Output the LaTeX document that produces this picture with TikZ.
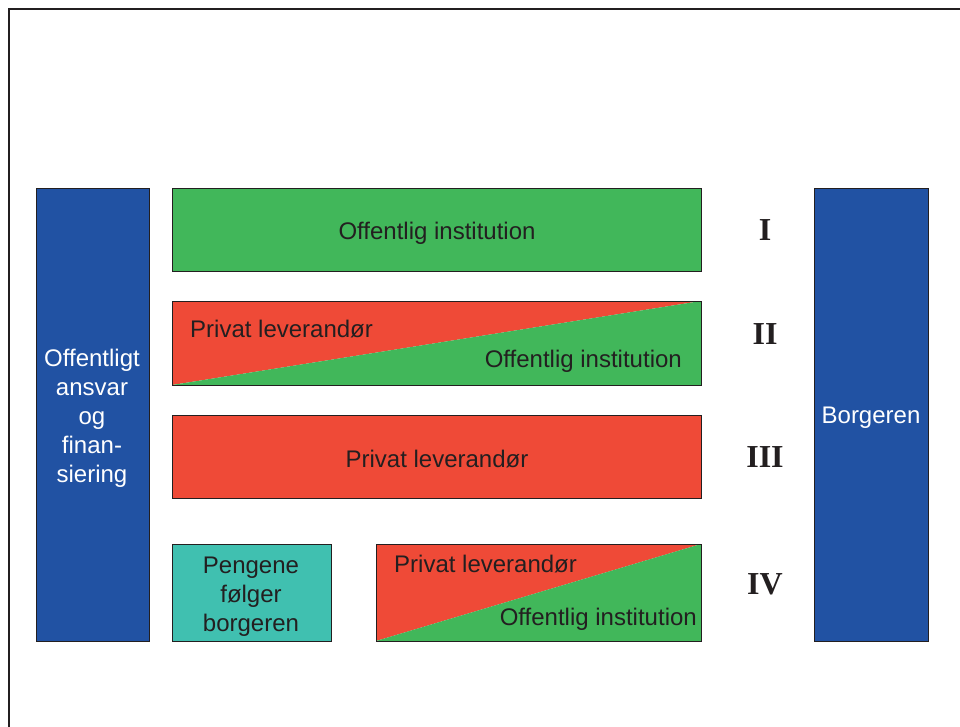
\documentclass[tikz,border=0pt]{standalone}
\usepackage{fontspec}
\setmainfont{Liberation Sans}
\newfontfamily\romanfont{Liberation Serif}
\definecolor{pgreen}{HTML}{41B75A}
\definecolor{pred}{HTML}{EF4A37}
\definecolor{pblue}{HTML}{2152A3}
\definecolor{pteal}{HTML}{40C0B0}
\definecolor{ink}{HTML}{231F20}
\begin{document}
\begin{tikzpicture}[x=1pt,y=-1pt,
  box/.style={draw=ink, line width=0.9pt, anchor=north west, inner sep=0pt, outer sep=0pt},
  lbl/.style={text=ink, font=\fontsize{24}{29}\selectfont, inner sep=0pt, align=center},
  wlbl/.style={text=white, font=\fontsize{24}{29}\selectfont, inner sep=0pt, align=center},
  num/.style={text=ink, font=\romanfont\bfseries\fontsize{32}{36}\selectfont, inner sep=0pt},
  split/.style={box, path picture={
    \fill[pred] (path picture bounding box.north west) -- (path picture bounding box.north east) -- (path picture bounding box.south west) -- cycle;
    \fill[pgreen] (path picture bounding box.north east) -- (path picture bounding box.south east) -- (path picture bounding box.south west) -- cycle;}}
]
\useasboundingbox (0,0) rectangle (960,727);
\fill[white] (0,0) rectangle (960,727);
\draw[line width=2pt, ink] (9,727) -- (9,9) -- (960,9);

% left and right columns
\node[box, fill=pblue, minimum width=113pt, minimum height=453pt] (left) at (36,188) {};
\node[box, fill=pblue, minimum width=114pt, minimum height=453pt] (right) at (814,188) {};
\node[wlbl] (lefttxt) at (92,418) {Offentligt\\ansvar\\og\\finan-\\siering};
\node[wlbl] (righttxt) at (871,418) {Borgeren};

% row I
\node[box, fill=pgreen, minimum width=529pt, minimum height=83pt] (r1) at (172,188) {};
\node[lbl] (r1t) at (437,233.5) {Offentlig institution};
\node[num] (n1) at (765,230) {I};

% row II
\node[split, minimum width=529pt, minimum height=84pt] (r2) at (172,301) {};
\node[lbl, anchor=west] (r2a) at (190,329.5) {Privat leverandør};
\node[lbl, anchor=east] (r2b) at (682,361) {Offentlig institution};
\node[num] (n2) at (765,334) {II};

% row III
\node[box, fill=pred, minimum width=529pt, minimum height=83pt] (r3) at (172,415) {};
\node[lbl] (r3t) at (437,459) {Privat leverandør};
\node[num] (n3) at (765,457.5) {III};

% row IV
\node[box, fill=pteal, minimum width=159pt, minimum height=97pt] (r4a) at (172,544) {};
\node[lbl] (r4t) at (251,597) {Pengene\\følger\\borgeren};
\node[split, minimum width=325pt, minimum height=97pt] (r4b) at (376,544) {};
\node[lbl, anchor=west] (r4c) at (394,564.5) {Privat leverandør};
\node[lbl, anchor=east] (r4d) at (697,619) {Offentlig institution};
\node[num] (n4) at (765,584) {IV};
\end{tikzpicture}
\end{document}
